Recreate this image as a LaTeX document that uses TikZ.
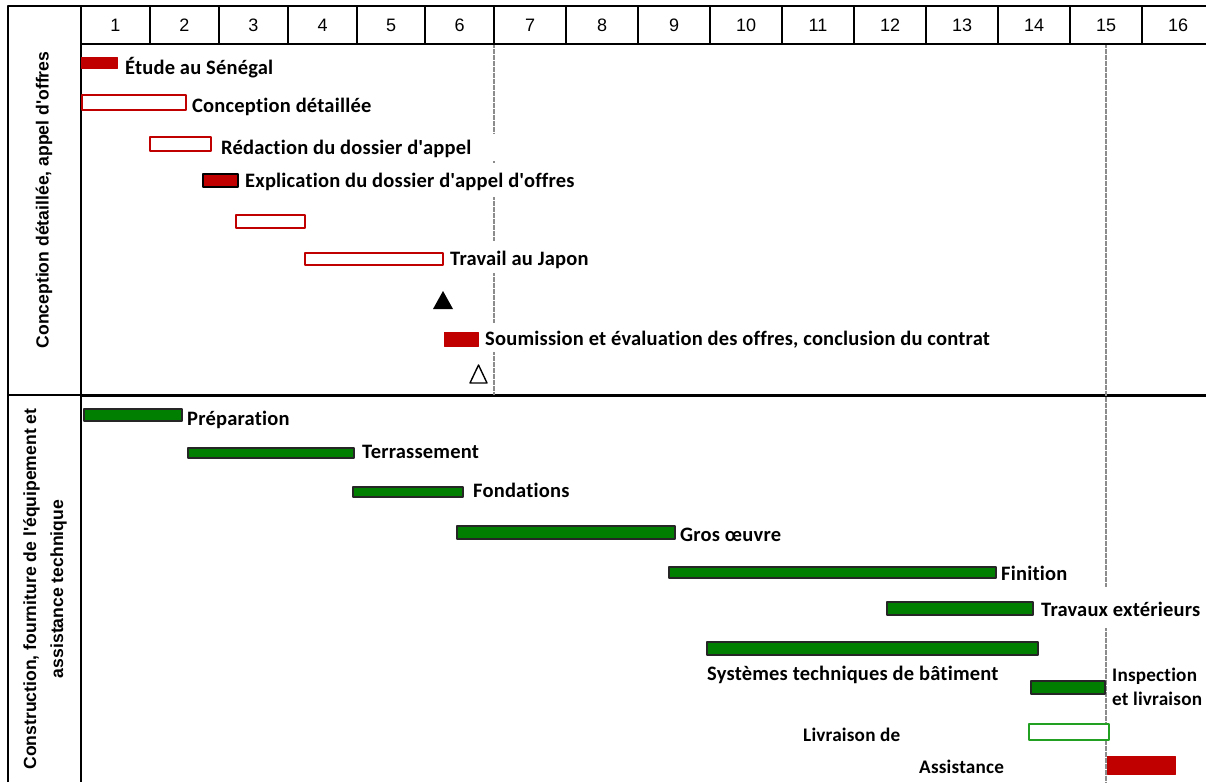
\documentclass[tikz,border=0pt]{standalone}
\usepackage{fontspec}
\setmainfont{Carlito}[Ligatures=NoCommon,LetterSpace=1.0]
\newfontfamily\numfont{Liberation Sans}
\newfontfamily\sidefont{Liberation Sans}
\definecolor{barred}{HTML}{C00000}
\definecolor{bargreen}{HTML}{007F00}
\definecolor{boxgreen}{HTML}{22A022}
\tikzset{
  redbar/.style={fill=barred,draw=barred,line width=0.8pt},
  redbox/.style={fill=white,draw=barred,line width=1.8pt},
  greenbar/.style={fill=bargreen,draw=black!85,line width=1.4pt},
  greenbox/.style={fill=white,draw=boxgreen,line width=2pt},
  lab/.style={anchor=base west,inner sep=0pt,font=\bfseries\fontsize{20.5}{23}\selectfont},
  smalllab/.style={lab,font=\bfseries\fontsize{19.2}{22}\selectfont},
  num/.style={inner sep=0pt,font=\numfont\fontsize{18}{20}\selectfont},
  side/.style={rotate=90,align=center,inner sep=0pt,font=\sidefont\bfseries\fontsize{17.6}{27}\selectfont},
  milestone/.style={draw=black!45,line width=2pt,dash pattern=on 0.7pt off 0.5pt}
}
\begin{document}
\begin{tikzpicture}[x=1pt,y=-1pt,line join=round]
\useasboundingbox (0,0) rectangle (1206,782);
\fill[white] (0,0) rectangle (1206,782);
% frame and month header
\draw[line width=2pt] (8,782)--(8,6)--(1206,6);
\draw[line width=2pt] (81,6)--(81,782);
\draw[line width=2pt] (81,44)--(1206,44);
\foreach \x in {150,219,288,357,425,494,566,638,710,782,854,926,998,1070,1142}
  \draw[line width=2pt] (\x,6)--(\x,44);
\foreach \i/\x in {1/115.5,2/184.5,3/253.5,4/322.5,5/391,6/459.5,7/530,8/602,9/674,10/746,11/818,12/890,13/962,14/1034,15/1106,16/1178}
  \node[num] (m\i) at (\x,25) {\i};
% sections
\draw[line width=2pt] (8,395)--(81,395);
\draw[line width=3.5pt] (81,395.5)--(1206,395.5);
\node[side] (phase1) at (44,200) {Conception détaillée, appel d\textquotesingle offres};
\node[side] (phase2) at (45,589) {Construction, fourniture de l\textquotesingle équipement et\\assistance technique};
% milestones
\foreach \ya/\yb in {45/133,161/163,197/241,273/323,352/395}
  \draw[milestone] (494,\ya)--(494,\yb);
\foreach \ya/\yb in {45/587,628/782}
  \draw[milestone] (1106,\ya)--(1106,\yb);
% design and tender
\draw[redbar] (81,57) rectangle (117,68);
\node[lab] (etude) at (125,74) {Étude au Sénégal};
\draw[redbox] (82,95) rectangle (186,110);
\node[lab] (concep) at (192,112) {Conception détaillée};
\draw[redbox] (150,137) rectangle (211,151);
\node[lab] (redac) at (221,154) {Rédaction du dossier d\textquotesingle appel};
\draw[fill=barred,draw=black,line width=1.4pt] (203,174) rectangle (238,187);
\node[lab] (expl) at (245,187) {Explication du dossier d\textquotesingle appel d\textquotesingle offres};
\draw[redbox] (236,215) rectangle (305,228);
\draw[redbox] (305,253) rectangle (443,265);
\node[lab] (japon) at (450,265.5) {Travail au Japon};
\fill (433,309)--(453,309)--(443,291)--cycle;
\draw[redbar] (444,332) rectangle (478,346);
\node[lab] (soum) at (485,345) {Soumission et évaluation des offres, conclusion du contrat};
\draw[line width=1.4pt,fill=white] (470,383)--(487,383)--(478.5,365)--cycle;
% construction
\draw[greenbar] (84,409) rectangle (182,421);
\node[lab] (prep) at (187,425) {Préparation};
\draw[greenbar] (188,448) rectangle (354,458);
\node[lab] (terr) at (362,458) {Terrassement};
\draw[greenbar] (353,487) rectangle (463,497);
\node[lab] (fond) at (473,497) {Fondations};
\draw[greenbar] (457,526) rectangle (675,539);
\node[lab] (gros) at (680,541) {Gros œuvre};
\draw[greenbar] (669,567) rectangle (996,578);
\node[lab] (fini) at (1001,580) {Finition};
\draw[greenbar] (887,602) rectangle (1033,615);
\node[lab] (trav) at (1041,616) {Travaux extérieurs};
\draw[greenbar] (707,642) rectangle (1038,655);
\node[lab] (syst) at (707,680.5) {Systèmes techniques de bâtiment};
\draw[greenbar] (1031,681) rectangle (1105,694);
\node[smalllab] (insp) at (1112,681) {Inspection};
\node[smalllab] (livr) at (1112,705) {et livraison};
\draw[greenbox] (1029,724) rectangle (1109,740);
\node[smalllab] (equip) at (803,741) {Livraison de};
\draw[redbar] (1107,756) rectangle (1175,774);
\node[smalllab] (assi) at (919,773) {Assistance};
\end{tikzpicture}
\end{document}
